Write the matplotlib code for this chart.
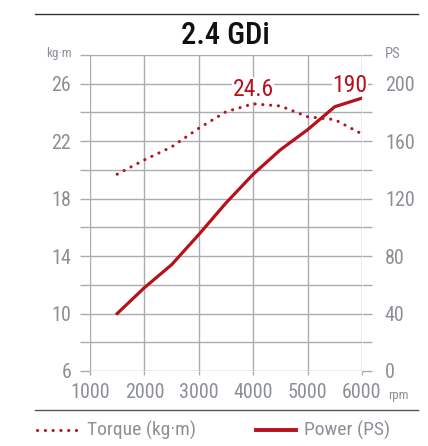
import matplotlib
matplotlib.use("Agg")
import matplotlib.pyplot as plt
from matplotlib.lines import Line2D

# engine data
rpm = [1500, 2000, 2500, 3000, 3500, 4000, 4500, 5000, 5500, 6000]
torque = [19.7, 20.7, 21.6, 22.9, 24.05, 24.6, 24.45, 23.7, 23.5, 22.5]  # kg·m
power = [40, 58, 74, 95, 117, 137, 154, 168, 184, 190]  # PS

x_ticks = [1000, 2000, 3000, 4000, 5000, 6000]
torque_ticks = [6, 8, 10, 12, 14, 16, 18, 20, 22, 24, 26, 28]
power_ticks = [0, 20, 40, 60, 80, 100, 120, 140, 160, 180, 200, 220]

RED = "#b5121b"
GRID = "#a9adb3"
TXT = "#8c9096"
plt.rcParams["font.family"] = ["Roboto Condensed", "Roboto", "DejaVu Sans"]

fig = plt.figure(figsize=(4.28, 4.46), dpi=100)
ax = fig.add_axes([90 / 428, 75 / 446, 272 / 428, 316 / 446])
ax2 = ax.twinx()

ax.set_xlim(1000, 6000)
ax.set_ylim(6, 28)
ax2.set_ylim(0, 220)

for a in (ax, ax2):
    for s in a.spines.values():
        s.set_visible(False)
    a.patch.set_visible(False)

ax.set_xticks(x_ticks)
ax.set_xticklabels([str(v) for v in x_ticks], fontsize=14.5, color=TXT)
ax.set_yticks(torque_ticks)
ax.set_yticklabels([str(v) if v % 4 == 2 and v < 28 else "" for v in torque_ticks],
                   fontsize=14.5, color=TXT)
ax2.set_yticks(power_ticks)
ax2.set_yticklabels([str(v) if v % 40 == 0 and v < 220 else "" for v in power_ticks],
                    fontsize=14.5, color=TXT)

ax.tick_params(axis="x", direction="out", length=3, width=1, color=GRID, pad=6)
ax.tick_params(axis="y", direction="out", length=7.5, width=1, color=GRID, pad=6)
ax2.tick_params(axis="y", direction="out", length=7.5, width=1, color=GRID, pad=9)

ax.grid(True, color=GRID, linewidth=1)
ax.set_axisbelow(True)

ax.plot(rpm, torque, color=RED, linewidth=2.2, linestyle=(0, (0.05, 2.5)),
        dash_capstyle="round", zorder=3)
ax2.plot(rpm, power, color=RED, linewidth=2.3, zorder=3)

# peak value labels sit on a white patch that hides the grid, under the curves
box = dict(facecolor="white", edgecolor="none", pad=0.5)
ax.text(4000, 25.15, "24.6", color=RED, fontsize=17, ha="center", va="baseline",
        bbox=box, zorder=2.5)
ax2.text(5780, 194, "190", color=RED, fontsize=17, ha="center", va="baseline",
         bbox=box, zorder=2.5)

# axis unit labels
fig.text(72 / 428, 1 - 54 / 446, "kg·m", fontsize=9.5, color=TXT, ha="right", va="center")
fig.text(385 / 428, 1 - 54 / 446, "PS", fontsize=10.5, color=TXT, ha="left", va="center")
fig.text(388 / 428, 1 - 395 / 446, "rpm", fontsize=9.5, color=TXT, ha="left", va="center")

fig.text(0.527, 1 - 36 / 446, "2.4 GDi", fontsize=22, color="#111111", ha="center",
         va="center", fontweight="medium")

# top and bottom rules
fig.add_artist(Line2D([35 / 428, 418 / 428], [1 - 14 / 446] * 2, color="#333333", linewidth=1))
fig.add_artist(Line2D([35 / 428, 418 / 428], [1 - 410 / 446] * 2, color="#555555", linewidth=1))

# legend
ly = 1 - 430 / 446
fig.add_artist(Line2D([37 / 428, 77 / 428], [ly, ly], color=RED, linewidth=2.2,
                      linestyle=(0, (0.05, 2.5)), dash_capstyle="round"))
fig.text(87 / 428, ly, "Torque (kg·m)", fontsize=14, color=TXT, ha="left", va="center")
fig.add_artist(Line2D([256 / 428, 296 / 428], [ly, ly], color=RED, linewidth=2.8))
fig.text(304 / 428, ly, "Power (PS)", fontsize=14, color=TXT, ha="left", va="center")

fig.savefig("out.png", dpi=100)
